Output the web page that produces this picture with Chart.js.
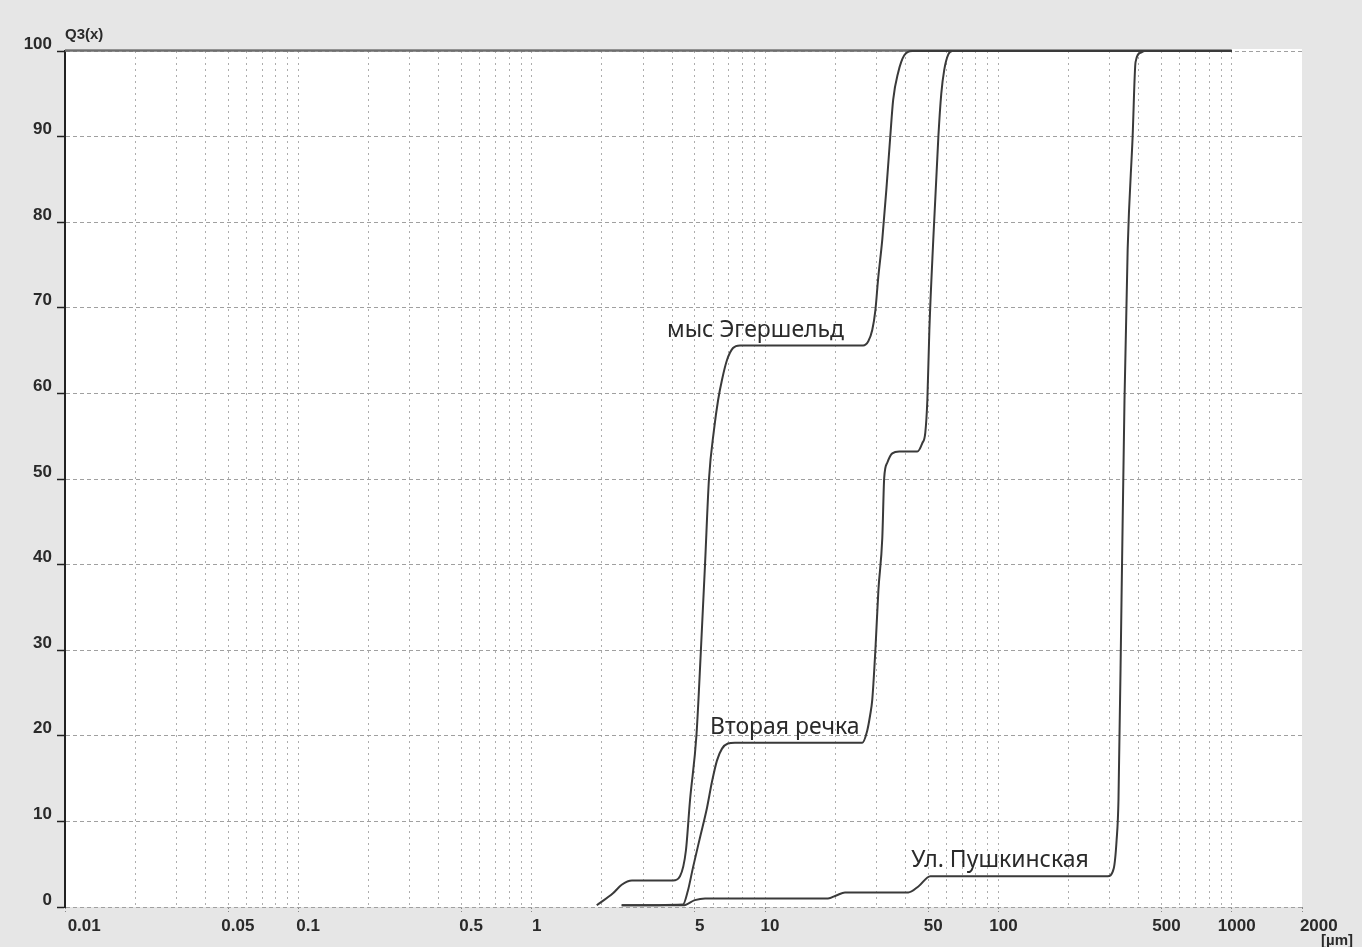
<!DOCTYPE html>
<html><head><meta charset="utf-8">
<script src="https://cdn.jsdelivr.net/npm/chart.js@4.4.1/dist/chart.umd.min.js"></script>
<style>html,body{margin:0;padding:0;background:#e6e6e6;}canvas{display:block}</style>
</head><body>
<canvas id="c" width="1362" height="947"></canvas>
<script>
// ---- tick labels ----
const xTickValues = [0.01, 0.05, 0.1, 0.5, 1, 5, 10, 50, 100, 500, 1000, 2000];
const xTickLabels = ['0.01', '0.05', '0.1', '0.5', '1', '5', '10', '50', '100', '500', '1000', '2000'];
const yTickValues = [0, 10, 20, 30, 40, 50, 60, 70, 80, 90, 100];
const yAxisTitle = 'Q3(x)';
const xAxisUnit = '[µm]';

// ---- series (x in µm, y = Q3 %) ----
const seriesNames = ['мыс Эгершельд', 'Вторая речка', 'Ул. Пушкинская'];
const egerX = [1.90, 2.23, 2.43, 2.69, 4.03, 4.32, 4.58, 4.77, 5.08, 5.31, 5.53, 5.75, 6.04, 6.29, 6.54, 6.87, 7.29, 7.81, 26.3, 27.7, 28.8, 29.7, 30.5, 31.8, 33.1, 34.4, 35.4, 37.2, 39.5, 42.7, 1000];
const egerY = [0.2, 1.6, 2.6, 3.1, 3.1, 3.6, 6.6, 12.5, 20, 30, 40, 50, 55.7, 59.2, 61.6, 63.9, 65.3, 65.6, 65.6, 66.1, 67.4, 69.7, 73.3, 78, 83.8, 90, 94.3, 97.5, 99.5, 100, 100];
const vtorX = [2.43, 4.45, 4.67, 4.91, 5.26, 5.64, 5.92, 6.22, 6.54, 6.93, 7.43, 26.1, 27.4, 28.2, 28.8, 29.7, 30.6, 31.8, 32.4, 33.4, 35.1, 37.6, 44.9, 47.2, 48.6, 49.6, 50.6, 52.6, 55.3, 56.9, 58.6, 61.0, 63.5, 1000];
const vtorY = [0.2, 0.3, 1.9, 4.6, 8.1, 11.6, 14.6, 17.1, 18.5, 19.1, 19.2, 19.2, 20.6, 22.4, 24.2, 30, 37, 43.1, 50.1, 51.9, 53.0, 53.2, 53.2, 54.2, 55.4, 59.2, 67.4, 78, 90, 95, 97.8, 99.6, 100, 100];
const pushX = [2.43, 4.45, 5.0, 5.53, 18.6, 20.2, 22.0, 41.1, 45.4, 51.1, 294, 312, 321, 327, 337, 347, 358, 376, 387, 407, 423, 1000];
const pushY = [0.2, 0.2, 0.8, 1.0, 1.0, 1.35, 1.7, 1.7, 2.4, 3.6, 3.6, 4.5, 7.8, 12.5, 35.9, 59.2, 76.8, 90, 98.7, 99.8, 100, 100];

// annotation anchor points (data coords: left edge, vertical middle)
const labelX = [3.80, 5.81, 42.3];
const labelY = [67.4, 21.0, 5.4];

// ---- build ----
const toPts = (xs, ys) => xs.map((x, i) => ({x: x, y: ys[i]}));
const seriesData = [toPts(egerX, egerY), toPts(vtorX, vtorY), toPts(pushX, pushY)];

const gridValues = [];
for (let e = -2; e <= 3; e++) {
  for (let m = 1; m <= 9; m++) {
    const v = parseFloat((m * Math.pow(10, e)).toPrecision(6));
    if (v <= 2000) gridValues.push(v);
  }
}

const near = (a, b) => Math.abs(a - b) / b < 1e-6;
const labelIndex = v => xTickValues.findIndex(t => near(v, t));
const labelPad = {'0.01': '      ', '2000': '     ', '0.05': '  ', '0.1': '  ', '0.5': '  '};

const bgPlugin = {
  id: 'bg',
  beforeDraw(chart) {
    const {ctx, chartArea: a} = chart;
    ctx.save();
    ctx.fillStyle = '#e6e6e6';
    ctx.fillRect(0, 0, chart.width, chart.height);
    ctx.fillStyle = '#ffffff';
    ctx.fillRect(a.left, a.top - 2, a.right - a.left, a.bottom - a.top + 2);
    ctx.restore();
  },
  beforeDatasetsDraw(chart) {
    const {ctx} = chart;
    const xs = chart.scales.x, ys = chart.scales.y;
    ctx.save();
    ctx.strokeStyle = '#6e6e6e';
    ctx.lineWidth = 2.5;
    ctx.beginPath();
    const yy = ys.getPixelForValue(100) - 0.5;
    ctx.moveTo(xs.getPixelForValue(0.01), yy);
    ctx.lineTo(xs.getPixelForValue(1000), yy);
    ctx.stroke();
    ctx.restore();
  },
  afterDraw(chart) {
    const {ctx} = chart;
    const xs = chart.scales.x, ys = chart.scales.y;
    ctx.save();
    ctx.fillStyle = '#2a2a2a';
    ctx.font = '23px "Noto Sans", "Open Sans", sans-serif';
    ctx.textAlign = 'left';
    ctx.textBaseline = 'middle';
    seriesNames.forEach((n, i) => {
      ctx.fillText(n, xs.getPixelForValue(labelX[i]), ys.getPixelForValue(labelY[i]));
    });
    ctx.fillStyle = '#2a2a2a';
    ctx.font = 'bold 15px "Liberation Sans", Arial, sans-serif';
    ctx.fillText(yAxisTitle, chart.chartArea.left, 35);
    ctx.fillText(xAxisUnit, chart.chartArea.right + 19, 941);
    ctx.restore();
  }
};

new Chart(document.getElementById('c'), {
  type: 'line',
  data: {
    datasets: seriesData.map((d, i) => ({
      label: seriesNames[i],
      data: d,
      borderColor: '#3a3a3a',
      borderWidth: 2,
      pointRadius: 0,
      fill: false,
      cubicInterpolationMode: 'monotone',
      clip: 6
    }))
  },
  options: {
    responsive: false,
    animation: false,
    layout: {padding: {top: 51, right: 60, left: 0, bottom: 0}},
    plugins: {legend: {display: false}, tooltip: {enabled: false}},
    scales: {
      x: {
        type: 'logarithmic',
        min: 0.01,
        max: 2000,
        afterBuildTicks(scale) { scale.ticks = gridValues.map(v => ({value: v})); },
        afterFit(scale) { scale.height = 40; },
        border: {display: false, dash: [2, 4]},
        grid: {
          color: ctx => {
            const v = ctx.tick ? ctx.tick.value : 0;
            if (near(v, 0.01) || near(v, 2000)) return 'rgba(0,0,0,0)';
            return '#adadad';
          },
          lineWidth: 1,
          drawTicks: true,
          tickLength: 5,
          tickWidth: 1,
          tickBorderDash: [2, 2],
          tickColor: ctx => (ctx.tick && labelIndex(ctx.tick.value) >= 0) ? '#888' : 'rgba(0,0,0,0)'
        },
        ticks: {
          autoSkip: false,
          maxRotation: 0,
          minRotation: 0,
          padding: 4,
          labelOffset: 5,
          color: '#2a2a2a',
          font: {family: '"Liberation Sans", Arial, sans-serif', weight: 'bold', size: 17},
          callback: function (v) {
            const i = labelIndex(v);
            if (i < 0) return '';
            const s = xTickLabels[i];
            return (labelPad[s] || '') + s;
          }
        }
      },
      y: {
        type: 'linear',
        min: 0,
        max: 100,
        afterBuildTicks(scale) { scale.ticks = yTickValues.map(v => ({value: v})); },
        afterFit(scale) { scale.width = 65; },
        border: {display: true, color: '#222', width: 2, dash: [4, 3]},
        grid: {
          color: '#a0a0a0',
          lineWidth: 1,
          drawTicks: true,
          tickLength: 8,
          tickWidth: 1.5,
          tickBorderDash: [],
          tickColor: '#222'
        },
        ticks: {
          padding: 5,
          labelOffset: -7,
          color: '#2a2a2a',
          font: {family: '"Liberation Sans", Arial, sans-serif', weight: 'bold', size: 17},
          callback: v => String(v)
        }
      }
    }
  },
  plugins: [bgPlugin]
});
</script>
</body></html>
